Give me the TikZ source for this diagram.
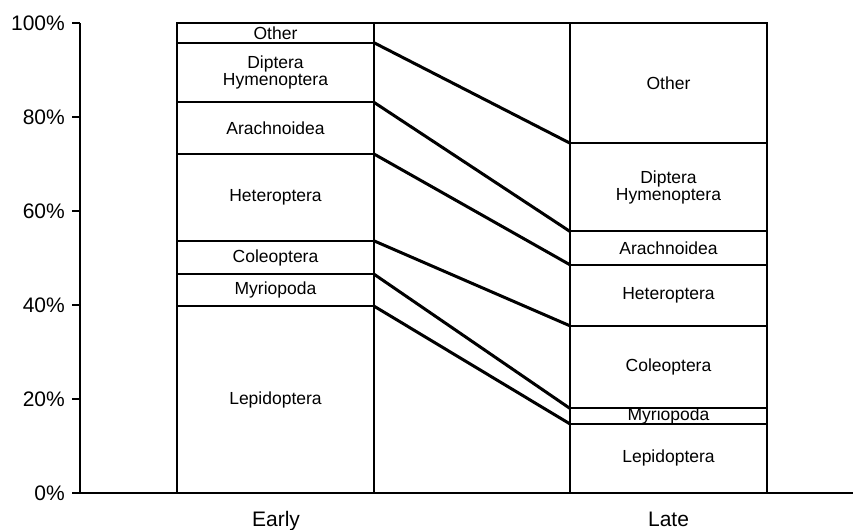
\documentclass[tikz,border=0pt]{standalone}
\usepackage{fontspec}
\setmainfont{Liberation Sans}
\begin{document}
\begin{tikzpicture}[x=1pt,y=4.695pt,
    bar/.style={line width=2pt},
    link/.style={line width=3pt},
    lab/.style={font=\fontsize{17.5}{17}\selectfont, align=center, inner sep=0pt},
    axlab/.style={font=\fontsize{21}{22}\selectfont, inner sep=0pt}]
    \useasboundingbox (0,-7.88) rectangle (853,105.0);

    % Axis
    \draw[bar] (80,100) -- (80,0) -- (853,0);
    \foreach \p in {0,20,...,100}{
        \draw[bar] (72,\p) -- (80,\p);
        \node[axlab, anchor=east] (tick\p) at (65,\p) {\p\%};
    }

    % Bars
    \draw[bar] (177,0) -- (177,100) -- (767,100) -- (767,0);
    \draw[bar] (374,0) -- (374,100);
    \draw[bar] (570,0) -- (570,100);
    \node[axlab, anchor=base] (early) at (276,-7.2) {Early};
    \node[axlab, anchor=base] (late) at (668.5,-7.2) {Late};

    % Segments
    \foreach \a/\b/\c/\d/\t [count=\i] in
        {0/39.8/0/14.7/Lepidoptera,
         39.8/46.6/14.7/18.0/Myriopoda,
         46.6/53.7/18.0/35.6/Coleoptera,
         53.7/72.2/35.6/48.6/Heteroptera,
         72.2/83.2/48.6/55.7/Arachnoidea,
         83.2/95.9/55.7/74.5/{Diptera\\Hymenoptera},
         95.9/100/74.5/100/Other}{
        \pgfmathsetmacro\me{(\a+\b)/2}
        \pgfmathsetmacro\ml{(\c+\d)/2}
        \node[lab] (early\i) at (275.5,\me) {\t};
        \node[lab] (late\i) at (668.5,\ml) {\t};
        \coordinate (e\i) at (374,\b);
        \coordinate (l\i) at (570,\d);
    }

    % Links
    \foreach \i in {1,...,6}{
        \draw[bar] (177,0 |- e\i) -- (e\i);
        \draw[link] (e\i) -- (l\i);
        \draw[bar] (l\i) -- (767,0 |- l\i);
    }
\end{tikzpicture}
\end{document}
